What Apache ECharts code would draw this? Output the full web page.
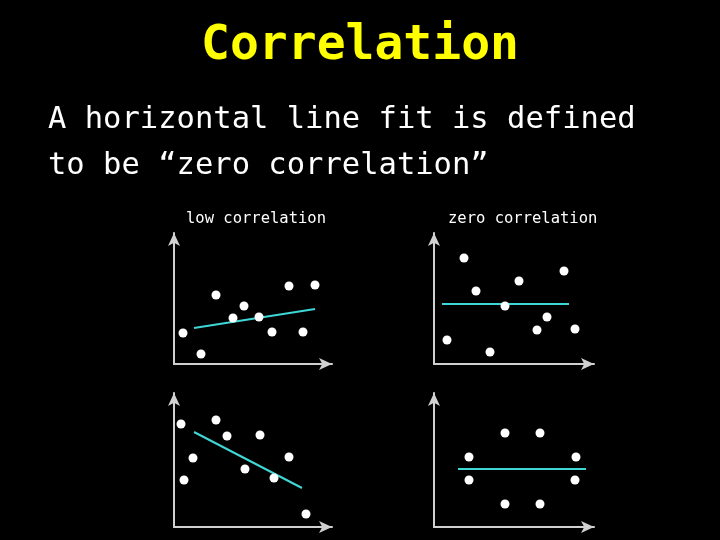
<!DOCTYPE html>
<html>
<head>
<meta charset="utf-8">
<script src="https://cdn.jsdelivr.net/npm/echarts@6/dist/echarts.min.js"></script>
<style>html,body{margin:0;background:#000}#c{width:720px;height:540px}</style>
</head>
<body>
<div id="c"></div>
<script>
var chart = echarts.init(document.getElementById('c'));

// points (x, y from the axis origin)
var lowUpPts = [[9,31],[27,10],[42,69],[59,46],[70,58],[85,47],[98,32],[115,78],[129,32],[141,79]];
var lowUpFit = [[20,36],[141,55]];
var zeroAPts = [[30,106],[42,73],[85,83],[71,58],[130,93],[113,47],[103,34],[141,35],[13,24],[56,12]];
var zeroAFit = [[8,60],[135,60]];
var lowDownPts = [[7,103],[42,107],[53,91],[86,92],[19,69],[115,70],[71,58],[100,49],[10,47],[132,13]];
var lowDownFit = [[20,95],[128,39]];
var zeroBPts = [[71,94],[106,94],[35,70],[142,70],[35,47],[141,47],[71,23],[106,23]];
var zeroBFit = [[24,58],[152,58]];

var grids = [
  {left:174, top:233, width:158, height:131},
  {left:434, top:233, width:160, height:131},
  {left:174, top:393, width:158, height:134},
  {left:434, top:393, width:160, height:134}
];
var axisStyle = {show:true, lineStyle:{color:'#d0d0d0', width:2}, symbol:['none','arrow'], symbolSize:[9,13]};
function xAx(i){ return {type:'value', gridIndex:i, min:0, max:grids[i].width, axisLine:axisStyle, axisTick:{show:false}, axisLabel:{show:false}, splitLine:{show:false}}; }
function yAx(i){ return {type:'value', gridIndex:i, min:0, max:grids[i].height, axisLine:axisStyle, axisTick:{show:false}, axisLabel:{show:false}, splitLine:{show:false}}; }

var pts = [lowUpPts, zeroAPts, lowDownPts, zeroBPts];
var fits = [lowUpFit, zeroAFit, lowDownFit, zeroBFit];
var series = [];
for (var i = 0; i < 4; i++) {
  series.push({type:'line', xAxisIndex:i, yAxisIndex:i, data:fits[i], symbol:'none', lineStyle:{color:'#3fd6d6', width:2}, z:2});
  series.push({type:'scatter', xAxisIndex:i, yAxisIndex:i, data:pts[i], symbolSize:9, itemStyle:{color:'#fff', opacity:1}, z:3});
}

var option = {
  backgroundColor:'#000',
  animation:false,
  title:[
    {text:'Correlation', left:'center', top:18, textStyle:{color:'#ffff00', fontSize:48, fontWeight:'bold', fontFamily:'DejaVu Sans Mono'}},
    {text:'A horizontal line fit is defined\nto be “zero correlation”', left:43, top:92, textStyle:{color:'#fff', fontSize:30.5, lineHeight:46, fontWeight:'normal', fontFamily:'DejaVu Sans Mono'}},
    {text:'low correlation', left:181, top:206, textStyle:{color:'#fff', fontSize:15.5, fontWeight:'normal', fontFamily:'DejaVu Sans Mono'}},
    {text:'zero correlation', left:443, top:206, textStyle:{color:'#fff', fontSize:15.5, fontWeight:'normal', fontFamily:'DejaVu Sans Mono'}}
  ],
  grid:grids,
  xAxis:[xAx(0),xAx(1),xAx(2),xAx(3)],
  yAxis:[yAx(0),yAx(1),yAx(2),yAx(3)],
  series:series
};
option && chart.setOption(option);
</script>
</body>
</html>
